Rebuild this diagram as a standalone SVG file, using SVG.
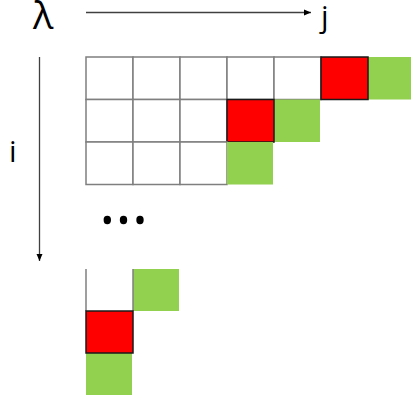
<svg xmlns="http://www.w3.org/2000/svg" width="411" height="402" viewBox="0 0 411 402">
<style>
.t{font-family:"Open Sans","Noto Sans",sans-serif;fill:#000}
.w{fill:#fff;stroke:#7f7f7f;stroke-width:1.5}
.r{fill:#ff0000;stroke:#1a1a1a;stroke-width:1.5}
.g{fill:#92d050}
.ax{stroke:#404040;stroke-width:1.3;fill:none}
</style>
<defs>
<marker id="ah" markerWidth="8" markerHeight="8" refX="7" refY="4" orient="auto" markerUnits="userSpaceOnUse">
<path d="M0,1 L7,4 L0,7 Z" fill="#000"/>
</marker>
</defs>
<rect width="411" height="402" fill="#fff"/>
<g id="labels">
<text class="t" x="33" y="29" font-size="38">λ</text>
<text class="t" x="321" y="27" font-size="30">j</text>
<text class="t" x="9" y="162" font-size="30">i</text>
</g>
<g id="connectors">
<line class="ax" x1="86" y1="12.5" x2="311" y2="12.5" marker-end="url(#ah)"/>
<line class="ax" x1="39.5" y1="57" x2="39.5" y2="261" marker-end="url(#ah)"/>
</g>
<g id="grid">
<rect class="w" x="86" y="57" width="47" height="42.5"/>
<rect class="w" x="133" y="57" width="47" height="42.5"/>
<rect class="w" x="180" y="57" width="47" height="42.5"/>
<rect class="w" x="227" y="57" width="47" height="42.5"/>
<rect class="w" x="274" y="57" width="47" height="42.5"/>
<rect class="g" x="368" y="57" width="43" height="42.5"/>
<rect class="r" x="321" y="57" width="47" height="42.5"/>
<rect class="w" x="86" y="99.5" width="47" height="42.5"/>
<rect class="w" x="133" y="99.5" width="47" height="42.5"/>
<rect class="w" x="180" y="99.5" width="47" height="42.5"/>
<rect class="g" x="274" y="99.5" width="46" height="42.5"/>
<rect class="r" x="227" y="99.5" width="47" height="42.5"/>
<rect class="w" x="86" y="142" width="47" height="42.5"/>
<rect class="w" x="133" y="142" width="47" height="42.5"/>
<rect class="w" x="180" y="142" width="47" height="42.5"/>
<rect class="g" x="227" y="142" width="46" height="42.5"/>
</g>
<g id="dots" fill="#000">
<ellipse cx="107.3" cy="220" rx="3.7" ry="4.2"/>
<ellipse cx="123.5" cy="220" rx="3.7" ry="4.2"/>
<ellipse cx="140" cy="220" rx="3.7" ry="4.2"/>
</g>
<g id="bottom">
<line x1="86" y1="269" x2="86" y2="311" stroke="#7f7f7f" stroke-width="1.5"/>
<rect class="g" x="133" y="269" width="46" height="42"/>
<line x1="133" y1="269" x2="133" y2="311" stroke="#7f7f7f" stroke-width="1.5"/>
<rect class="g" x="86" y="353" width="46" height="42"/>
<rect class="r" x="86" y="311" width="47" height="42"/>
</g>
</svg>
